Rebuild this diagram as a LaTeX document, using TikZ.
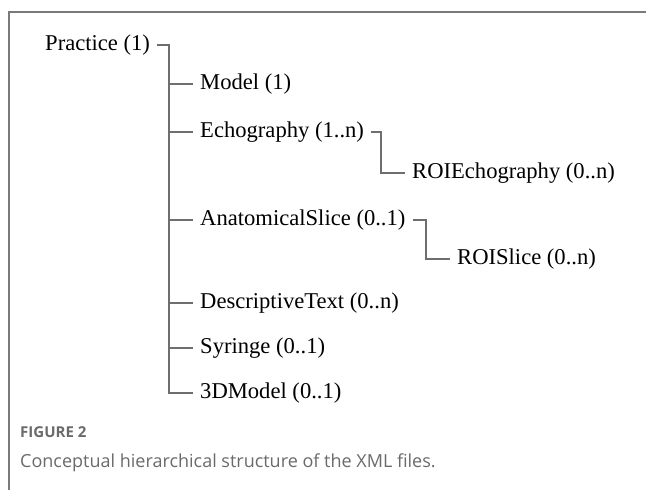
\documentclass[tikz,border=0pt]{standalone}
\usepackage{fontspec}
\setmainfont{Liberation Serif}
\newfontfamily\capfont{Open Sans}
\definecolor{linegray}{HTML}{6E6E6E}
\definecolor{framegray}{HTML}{7A7A7A}
\definecolor{captiongray}{HTML}{6A6A6A}

\begin{document}
\begin{tikzpicture}[x=1pt, y=-1pt,
        item/.style={anchor=west, inner sep=7pt, font=\fontsize{22.6}{26}\selectfont},
        link/.style={draw=linegray, line width=1.3pt},
        ]

        \useasboundingbox (0,0) rectangle (646,490);
        \draw[framegray, line width=1.2pt] (646,12) -- (9,12) -- (9,490);

        % Nodes
        \node[item] (practice) at (38,45)  {Practice (1)};
        \node[item] (model)    at (193,84) {Model (1)};
        \node[item] (echo)     at (193,132) {Echography (1..n)};
        \node[item] (roiecho)  at (405,173) {ROIEchography (0..n)};
        \node[item] (anat)     at (193,220) {AnatomicalSlice (0..1)};
        \node[item] (roislice) at (450,259) {ROISlice (0..n)};
        \node[item] (desc)     at (193,303) {DescriptiveText (0..n)};
        \node[item] (syringe)  at (193,348) {Syringe (0..1)};
        \node[item] (threed)   at (193,393) {3DModel (0..1)};

        % Links
        \draw[link] (practice.east) -| ([xshift=-24pt]threed.west) -- (threed.west);
        \draw[link] ([xshift=-24pt]model.west) -- (model.west);
        \draw[link] ([xshift=-24pt]echo.west) -- (echo.west);
        \draw[link] ([xshift=-24pt]anat.west) -- (anat.west);
        \draw[link] ([xshift=-24pt]desc.west) -- (desc.west);
        \draw[link] ([xshift=-24pt]syringe.west) -- (syringe.west);
        \draw[link] (echo.east) -| ([xshift=-24pt]roiecho.west) -- (roiecho.west);
        \draw[link] (anat.east) -| ([xshift=-24pt]roislice.west) -- (roislice.west);

        % Caption
        \node[anchor=base west, inner sep=0pt, text=captiongray, font=\capfont\bfseries\fontsize{15}{18}\selectfont] (fig) at (20,437) {FIGURE 2};
        \node[anchor=base west, inner sep=0pt, text=captiongray, font=\capfont\fontsize{18}{22}\selectfont] (cap) at (20,467) {Conceptual hierarchical structure of the XML files.};

    \end{tikzpicture}
\end{document}
